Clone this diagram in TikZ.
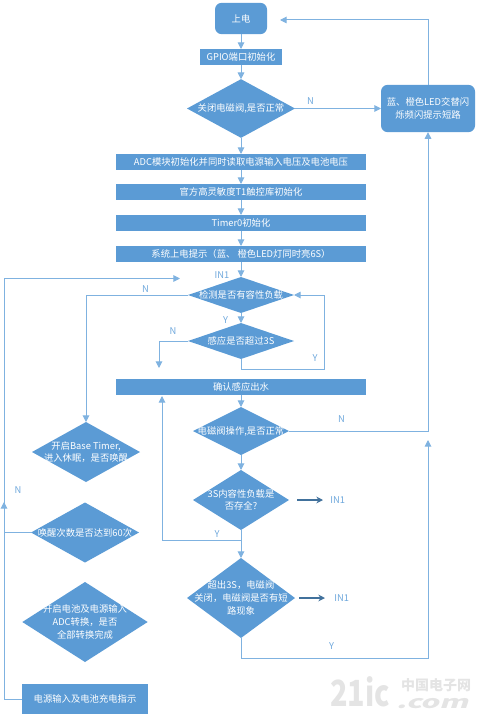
\documentclass[tikz,border=0pt]{standalone}
\usepackage{fontspec}
\setmainfont{Noto Sans CJK SC}
\usetikzlibrary{shapes.geometric,arrows.meta}
\definecolor{fillblue}{HTML}{5B9BD5}
\definecolor{linkblue}{HTML}{7FB2E0}
\definecolor{labelblue}{HTML}{6FA8DC}
\definecolor{thickblue}{HTML}{41719C}
\definecolor{markgray}{HTML}{E4E4E4}
\tikzset{
  txt/.style={font=\fontsize{7}{9.5}\selectfont,text=white,align=center},
  procbox/.style={rectangle,fill=fillblue,draw=none,inner sep=0pt,outer sep=0pt,txt},
  widebox/.style={procbox,minimum width=187.5pt,minimum height=12pt},
  roundbox/.style={procbox,rounded corners=5pt},
  dec/.style={diamond,fill=fillblue,draw=none,inner sep=0pt,outer sep=0pt},
  dectext/.style={label={[txt,inner sep=0pt]center:#1}},
  link/.style={draw=linkblue,line width=0.75pt,-{Triangle[length=5pt,width=5pt]}},
  plain/.style={draw=linkblue,line width=0.75pt},
  thick arrow/.style={draw=thickblue,line width=1.6pt,-{Stealth[length=5pt,width=5pt]}},
  lab/.style={font=\fontsize{7}{8}\selectfont,text=labelblue,inner sep=0pt},
}
\begin{document}
\begin{tikzpicture}[x=0.75pt,y=-0.75pt]
\useasboundingbox (0,0) rectangle (480,720);
% process boxes
\node[roundbox,minimum width=39pt,minimum height=23.5pt] (start) at (241,18.5) {上电};
\node[procbox,minimum width=61.5pt,minimum height=12pt] (gpio) at (241,57) {GPIO端口初始化};
\node[dec,minimum width=81pt,minimum height=44pt,dectext={关闭电磁阀,是否正常}] (d1) at (241,108.5) {};
\node[widebox] (adc) at (241,162) {ADC模块初始化并同时读取电源输入电压及电池电压};
\node[widebox] (lib) at (241,192) {官方高灵敏度T1触控库初始化};
\node[widebox] (timer) at (241,223) {Timer0初始化};
\node[widebox] (sys) at (241,254) {系统上电提示（蓝、 橙色LED灯同时亮6S）};
\node[dec,minimum width=79.5pt,minimum height=27pt,dectext={检测是否有容性负载}] (d2) at (241,295) {};
\node[dec,minimum width=79.5pt,minimum height=27pt,dectext={感应是否超过3S}] (d3) at (241,341) {};
\node[widebox] (confirm) at (241,387) {确认感应出水};
\node[dec,minimum width=72pt,minimum height=36pt,dectext={电磁阀操作,是否正常}] (d4) at (241,431) {};
\node[dec,minimum width=72pt,minimum height=45pt,dectext={3S内容性负载是\\否存全?}] (d5) at (241,500) {};
\node[dec,minimum width=81pt,minimum height=60pt,dectext={超出3S，电磁阀\\关闭，电磁阀是否有短\\路现象}] (d6) at (241,598) {};
\node[roundbox,minimum width=70.5pt,minimum height=35.5pt] (short) at (428,108.5) {蓝、橙色LED交替闪\\烁频闪提示短路};
\node[dec,minimum width=81pt,minimum height=45pt,dectext={开启Base Timer,\\进入休眠，是否唤醒}] (sleep) at (86,452) {};
\node[dec,minimum width=81pt,minimum height=45pt,dectext={唤醒次数是否达到60次}] (wake) at (85,532.5) {};
\node[dec,minimum width=94pt,minimum height=60pt,dectext={开启电池及电源输入\\ADC转换，是否\\全部转换完成}] (adc2) at (85,622) {};
\node[procbox,minimum width=94.5pt,minimum height=23pt] (power) at (85,699) {电源输入及电池充电指示};
% labels
\node[lab] (ln1) at (310.5,101.5) {N};
\node[lab] (lin1) at (222,275) {IN1};
\node[lab] (ln2) at (145.5,289) {N};
\node[lab] (ly2) at (225.5,320.5) {Y};
\node[lab] (ln3) at (173,331.5) {N};
\node[lab] (ly3) at (315,358.5) {Y};
\node[lab] (ln4) at (341.5,419.5) {N};
\node[lab] (ln5) at (18,490) {N};
\node[lab] (ly5) at (217,534) {Y};
\node[lab] (ly6) at (331.5,646.5) {Y};
\node[lab,anchor=west] (ina) at (330,500) {IN1};
\node[lab,anchor=west] (inb) at (334,598) {IN1};
% free ends
\coordinate (fstart) at (280,20);
\coordinate (f3) at (159,368);
\coordinate (c3) at (324,369);
\coordinate (c5) at (241,540);
\coordinate (f5) at (162,396);
\coordinate (c6) at (241,658);
\coordinate (f6) at (428,440);
\coordinate (fwake) at (4,502);
\coordinate (tin) at (180,278.5);
\coordinate (sa) at (297,500);
\coordinate (ea) at (323,500);
\coordinate (sb) at (299,598);
\coordinate (eb) at (325,598);
% connectors
\draw[link] (start) -- (gpio);
\draw[link] (gpio) -- (d1);
\draw[link] (d1) -- (adc);
\draw[link] (adc) -- (lib);
\draw[link] (lib) -- (timer);
\draw[link] (timer) -- (sys);
\draw[link] (sys) -- (d2);
\draw[link] (d2) -- (d3);
\draw[link] (confirm) -- (d4);
\draw[link] (d4) -- (d5);
\draw[link] (c5) -- (d6);
\draw[link] (d1) -- (short);
\draw[link] (short) |- (fstart);
\draw[link] (d4.east) -| (short.south);
\draw[link] (d2.west) -| (sleep.north);
\draw[link] (d3.west) -| (f3);
\draw[link] (d3.south) |- (c3) |- (d2.east);
\draw[link] (d5.south) -- (c5) -| (f5);
\draw[link] (d6.south) -- (c6) -| (f6);
\draw[link] (wake.west) -| (fwake);
\draw[link] (power.west) -| (4,278.5) -- (tin);
\draw[thick arrow] (sa) -- (ea);
\draw[thick arrow] (sb) -- (eb);
% watermark
\node[font=\fontsize{27}{27}\selectfont\bfseries,text=markgray,inner sep=0pt,xscale=0.8,transform shape] (mark21) at (360,692) {21ic};
\node[font=\fontsize{10.5}{11}\selectfont\bfseries,text=markgray,inner sep=0pt] (markcn) at (436,685) {中国电子网};
\node[font=\fontsize{13}{13}\selectfont\bfseries,text=markgray,inner sep=0pt,xscale=1.7,xslant=0.2,transform shape] (markcom) at (434,704) {.com};
\end{tikzpicture}
\end{document}
